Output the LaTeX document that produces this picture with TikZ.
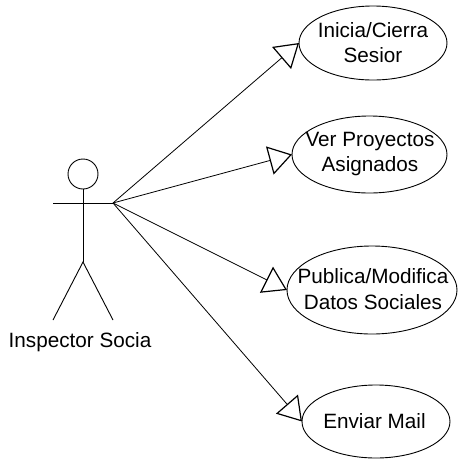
\documentclass[tikz,border=0pt]{standalone}
\usepackage{fontspec}
\setmainfont{Liberation Sans}
\usetikzlibrary{arrows.meta,shapes.geometric}
\tikzset{
  usecase/.style={draw, ellipse, line width=0.9pt, inner sep=0pt, outer sep=0pt},
  caselabel/.style={align=center, inner sep=0pt, font=\fontsize{20.7}{25.3}\selectfont},
  assoc/.style={line width=0.8pt, -{Triangle[open, length=23pt, width=29pt, line width=1.2pt]}},
  limb/.style={line width=0.9pt}
}

\begin{document}
\begin{tikzpicture}[x=1pt,y=-1pt]
            \useasboundingbox (0,0) rectangle (458,459);
            % use cases
            \node[usecase, minimum width=148pt, minimum height=74pt] (sesion)    at (373, 43) {};
            \node[usecase, minimum width=155pt, minimum height=77pt] (proyectos) at (369.5,154.5) {};
            \node[usecase, minimum width=170pt, minimum height=88pt] (datos)     at (372,290) {};
            \node[usecase, minimum width=148pt, minimum height=73pt] (mail)      at (376,421.5) {};
            \node[caselabel] (sesionText)    at (373, 42.5) {Inicia/Cierra\\Sesior};
            \node[caselabel] (proyectosText) at (370,154) {Ver Proyectos\\Asignados};
            \node[caselabel] (datosText)     at (373,289) {Publica/Modifica\\Datos Sociales};
            \node[caselabel] (mailText)      at (374.5,421) {Enviar Mail};
            % actor
            \node[draw, circle, limb, minimum size=30pt, inner sep=0pt, outer sep=0pt] (head) at (83,174) {};
            \coordinate (handL) at ( 53,203);
            \coordinate (handR) at (113,203);
            \coordinate (hip)   at ( 83,262);
            \coordinate (footL) at ( 53,320);
            \coordinate (footR) at (113,320);
            \draw[limb] (head.south) -- (hip);
            \draw[limb] (handL) -- (handR);
            \draw[limb] (footL) -- (hip) -- (footR);
            \node[caselabel] (actorText) at (80,342) {Inspector Socia};
            % associations
            \foreach \usecaseName in {sesion,proyectos,datos,mail}
                \draw[assoc] (handR) -- (\usecaseName.west);
\end{tikzpicture}
\end{document}
